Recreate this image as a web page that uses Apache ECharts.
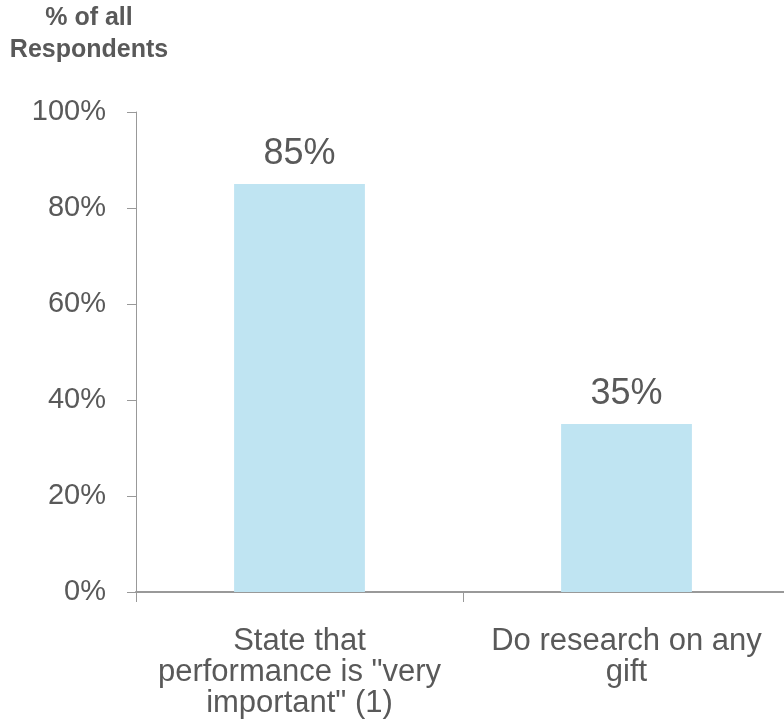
<!DOCTYPE html>
<html>
<head>
<meta charset="utf-8">
<script src="https://cdn.jsdelivr.net/npm/echarts@6/dist/echarts.min.js"></script>
<style>
  html, body { margin: 0; padding: 0; background: #fff; }
  #chart { width: 784px; height: 728px; }
</style>
</head>
<body>
<div id="chart"></div>
<script>
var categories = ['State that\nperformance is "very\nimportant" (1)', 'Do research on any\ngift'];
var values = [85, 35];
var yTicks = [0, 20, 40, 60, 80, 100];

var font = '"Century Gothic", "Liberation Sans", sans-serif';
var textColor = '#595959';
var axisColor = '#999999';

var chart = echarts.init(document.getElementById('chart'));
chart.setOption({
  animation: false,
  textStyle: { fontFamily: font },
  // plot runs a little past the right edge, like the source
  grid: { left: 136, width: 654, top: 112, bottom: 136, outerBoundsMode: 'none' },
  graphic: [{
    type: 'text',
    x: 89,
    y: 2,
    style: {
      text: '% of all\nRespondents',
      textAlign: 'center',
      textVerticalAlign: 'top',
      fontFamily: font,
      fontWeight: 'bold',
      fontSize: 25,
      lineHeight: 32,
      fill: textColor
    }
  }],
  xAxis: {
    type: 'category',
    data: categories,
    axisLine: { lineStyle: { color: axisColor, width: 2 } },
    axisTick: { show: true, length: 10, lineStyle: { color: axisColor } },
    axisLabel: {
      interval: 0,
      margin: 34,
      fontSize: 31,
      lineHeight: 31,
      color: textColor,
      fontFamily: font
    }
  },
  yAxis: {
    type: 'value',
    min: 0,
    max: 100,
    interval: 20,
    splitLine: { show: false },
    axisLine: { show: true, lineStyle: { color: axisColor, width: 1 } },
    axisTick: { show: true, length: 9, lineStyle: { color: axisColor } },
    axisLabel: {
      margin: 30,
      fontSize: 29,
      color: textColor,
      fontFamily: font,
      formatter: function (v) { return yTicks.indexOf(v) >= 0 ? v + '%' : ''; }
    }
  },
  series: [{
    type: 'bar',
    data: values,
    barWidth: '40%',
    itemStyle: { color: '#bfe4f2' },
    label: {
      show: true,
      position: 'top',
      distance: 12,
      fontSize: 36,
      color: textColor,
      fontFamily: font,
      formatter: '{c}%'
    }
  }]
});
</script>
</body>
</html>
